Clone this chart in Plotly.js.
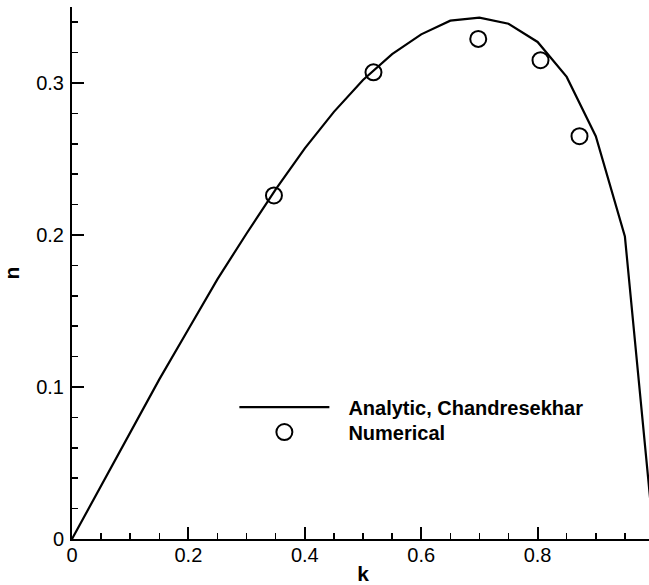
<!DOCTYPE html>
<html>
<head>
<meta charset="utf-8">
<script src="https://cdn.plot.ly/plotly-3.0.1.min.js"></script>
<style>
html,body{margin:0;padding:0;overflow:hidden;background:#fff;}
#chart{width:655px;height:585px;}
</style>
</head>
<body>
<div id="chart"></div>
<script>
// Analytic curve
const kAnalytic = [0, 0.05, 0.1, 0.15, 0.2, 0.25, 0.3, 0.35, 0.4, 0.45, 0.5, 0.55, 0.6, 0.65, 0.7, 0.75, 0.8, 0.85, 0.9, 0.95, 1.0];
const nAnalytic = [0, 0.035, 0.070, 0.105, 0.138, 0.171, 0.201, 0.230, 0.257, 0.281, 0.302, 0.319, 0.332, 0.341, 0.343, 0.339, 0.327, 0.304, 0.265, 0.199, 0];
// Numerical points
const kNumerical = [0.347, 0.518, 0.698, 0.805, 0.872];
const nNumerical = [0.226, 0.307, 0.329, 0.315, 0.265];
const xTickVals = [0, 0.2, 0.4, 0.6, 0.8, 1];
const yTickVals = [0, 0.1, 0.2, 0.3];
const seriesNames = ["Analytic, Chandresekhar", "Numerical"];

const FONT = 'Liberation Sans, Arial, sans-serif';
const legendFont = {family: FONT, size: 20, color: '#000', weight: 'bold'};

const traces = [
  {x: kAnalytic, y: nAnalytic, mode: 'lines', name: '\u2002\u2009' + seriesNames[0], legend: 'legend',
   line: {color: '#000', width: 2.2}, cliponaxis: false},
  {x: kNumerical, y: nNumerical, mode: 'markers', name: '\u2002\u2009' + seriesNames[1], legend: 'legend2',
   marker: {symbol: 'circle-open', size: 16, color: '#000', line: {width: 2, color: '#000'}}}
];

const tickFont = {family: FONT, size: 20, color: '#000'};
const layout = {
  width: 655, height: 585,
  margin: {l: 72, r: 1, t: 7, b: 46},
  paper_bgcolor: '#fff', plot_bgcolor: '#fff',
  showlegend: true,
  legend: {x: 0.279, y: 0.248, xanchor: 'left', yanchor: 'middle', bgcolor: 'rgba(0,0,0,0)',
           font: legendFont, itemwidth: 90},
  legend2: {x: 0.279, y: 0.201, xanchor: 'left', yanchor: 'middle', bgcolor: 'rgba(0,0,0,0)',
           font: legendFont, itemwidth: 90},
  xaxis: {range: [0, 1], tickvals: xTickVals, ticktext: xTickVals.map(String),
          showgrid: false, zeroline: false, showline: true, linecolor: '#000', linewidth: 2,
          ticks: 'inside', ticklen: 12, tickwidth: 2, tickcolor: '#000', tickfont: tickFont,
          ticklabelstandoff: -3,
          minor: {dtick: 0.05, tick0: 0, ticks: 'inside', ticklen: 6, tickwidth: 1.5, tickcolor: '#000', showgrid: false},
          title: {text: 'k', font: {family: FONT, size: 21, color: '#000', weight: 'bold'}, standoff: 4}},
  yaxis: {range: [0, 0.35], tickvals: yTickVals, ticktext: yTickVals.map(String),
          showgrid: false, zeroline: false, showline: true, linecolor: '#000', linewidth: 2,
          ticks: 'inside', ticklen: 12, tickwidth: 2, tickcolor: '#000', tickfont: tickFont,
          ticklabelstandoff: 2,
          minor: {dtick: 0.02, tick0: 0, ticks: 'inside', ticklen: 6, tickwidth: 1.5, tickcolor: '#000', showgrid: false},
          title: {text: 'n', font: {family: FONT, size: 21, color: '#000', weight: 'bold'}, standoff: 16}}
};
Plotly.newPlot('chart', traces, layout, {displayModeBar: false, staticPlot: true});
</script>
</body>
</html>
